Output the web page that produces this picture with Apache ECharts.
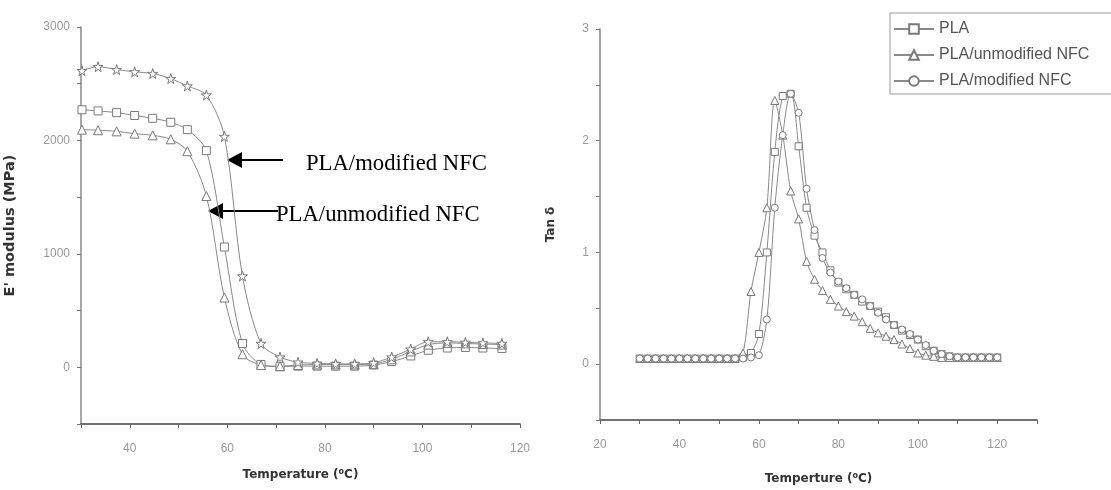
<!DOCTYPE html>
<html>
<head>
<meta charset="utf-8">
<script src="https://cdn.jsdelivr.net/npm/echarts@6/dist/echarts.min.js"></script>
<style>
  html, body { margin: 0; padding: 0; background: #fff; }
  #chart { width: 1111px; height: 490px; }
</style>
</head>
<body>
<div id="chart"></div>
<script>
// left panel: storage modulus
var tempE = [30.2, 33.5, 37.3, 41.0, 44.7, 48.4, 51.8, 55.7, 59.4, 63.1, 66.9, 70.8, 74.5, 78.4, 82.2, 86.1, 90.0, 93.7, 97.6, 101.2, 105.1, 108.8, 112.4, 116.3];
var ePLA = [2270, 2260, 2245, 2220, 2195, 2160, 2095, 1910, 1060, 210, 25, 5, 10, 10, 10, 10, 20, 50, 100, 150, 170, 175, 170, 165];
var eUnmod = [2095, 2090, 2080, 2060, 2045, 2010, 1905, 1510, 615, 115, 20, 10, 20, 25, 25, 25, 30, 70, 140, 200, 215, 210, 205, 200];
var eMod = [2615, 2650, 2625, 2605, 2590, 2545, 2480, 2400, 2035, 805, 210, 90, 45, 35, 30, 30, 40, 90, 160, 225, 225, 220, 215, 210];

// right panel: tan delta
var tempT = [30, 32, 34, 36, 38, 40, 42, 44, 46, 48, 50, 52, 54, 56, 58, 60, 62, 64, 66, 68, 70, 72, 74, 76, 78, 80, 82, 84, 86, 88, 90, 92, 94, 96, 98, 100, 102, 104, 106, 108, 110, 112, 114, 116, 118, 120];
var tPLA = [0.05, 0.05, 0.05, 0.05, 0.05, 0.05, 0.05, 0.05, 0.05, 0.05, 0.05, 0.05, 0.05, 0.06, 0.1, 0.27, 1.0, 1.9, 2.4, 2.42, 1.95, 1.4, 1.15, 1.0, 0.84, 0.73, 0.67, 0.62, 0.56, 0.52, 0.47, 0.42, 0.35, 0.3, 0.26, 0.22, 0.16, 0.12, 0.09, 0.07, 0.06, 0.06, 0.06, 0.06, 0.06, 0.06];
var tUnmod = [0.05, 0.05, 0.05, 0.05, 0.05, 0.05, 0.05, 0.05, 0.05, 0.05, 0.05, 0.05, 0.05, 0.1, 0.65, 1.0, 1.4, 2.36, 2.05, 1.55, 1.3, 0.92, 0.76, 0.66, 0.58, 0.52, 0.47, 0.43, 0.38, 0.32, 0.28, 0.25, 0.22, 0.18, 0.14, 0.1, 0.08, 0.07, 0.06, 0.06, 0.06, 0.06, 0.06, 0.06, 0.06, 0.06];
var tMod = [0.05, 0.05, 0.05, 0.05, 0.05, 0.05, 0.05, 0.05, 0.05, 0.05, 0.05, 0.05, 0.05, 0.05, 0.06, 0.08, 0.4, 1.4, 2.05, 2.42, 2.25, 1.57, 1.2, 0.95, 0.82, 0.74, 0.68, 0.62, 0.58, 0.52, 0.46, 0.4, 0.35, 0.31, 0.27, 0.22, 0.17, 0.12, 0.09, 0.07, 0.06, 0.06, 0.06, 0.06, 0.06, 0.06];

var names = ['PLA', 'PLA/unmodified NFC', 'PLA/modified NFC'];
var starPath = 'path://M50,0 L61,35 L98,35 L68,57 L79,91 L50,70 L21,91 L32,57 L2,35 L39,35 Z';

function pairs(xs, ys) {
    return xs.map(function (x, i) { return [x, ys[i]]; });
}

function lineSeries(name, xi, xs, ys, symbol, size) {
    return {
        name: name,
        type: 'line',
        xAxisIndex: xi,
        yAxisIndex: xi,
        data: pairs(xs, ys),
        smooth: 0.3,
        symbol: symbol,
        symbolSize: size,
        showSymbol: true,
        lineStyle: { color: '#8a8a8a', width: 1 },
        itemStyle: { color: '#fff', borderColor: '#7a7a7a', borderWidth: 1 },
        emphasis: { disabled: true },
        z: 3
    };
}

var labelStyle = { color: '#999', fontSize: 12, fontFamily: 'Liberation Sans' };
function nameStyle(size) {
    return {
        color: '#333', fontSize: size, fontWeight: 'bold', fontFamily: 'DejaVu Sans',
        rich: { sup: { fontSize: 8, fontWeight: 'bold', color: '#333', fontFamily: 'DejaVu Sans', verticalAlign: 'top', padding: [0, 0, 6, 0] } }
    };
}

function xAxis(idx, min, max, name, gap) {
    return {
        type: 'value', gridIndex: idx, min: min, max: max, interval: 10,
        name: name, nameLocation: 'middle', nameGap: gap, nameTextStyle: nameStyle(12),
        axisLine: { show: true, onZero: false, lineStyle: { color: '#444', width: 1.5 } },
        axisTick: { show: true, length: 4, lineStyle: { color: '#666' } },
        axisLabel: Object.assign({ margin: 19, formatter: function (v) { return v % 20 === 0 && v <= 120 ? v : ''; } }, labelStyle),
        splitLine: { show: false }
    };
}

function yAxis(idx, min, max, step, labelStep, name, gap, nsize) {
    return {
        type: 'value', gridIndex: idx, min: min, max: max, interval: step,
        name: name, nameLocation: 'middle', nameGap: gap, nameTextStyle: nameStyle(nsize),
        axisLine: { show: true, onZero: false, lineStyle: { color: '#888', width: 1.5 } },
        axisTick: { show: true, length: 4, lineStyle: { color: '#777' } },
        axisLabel: Object.assign({ margin: 11, formatter: function (v) { return Math.abs(v % labelStep) < 1e-9 && v >= 0 ? v : ''; } }, labelStyle),
        splitLine: { show: false }
    };
}

var chart = echarts.init(document.getElementById('chart'));

var option = {
    backgroundColor: '#fff',
    animation: false,
    grid: [
        { left: 81, top: 27, width: 439, height: 397 },
        { left: 600, top: 29, width: 437, height: 394 }
    ],
    xAxis: [
        xAxis(0, 30, 120, 'Temperature ({sup|o}C)', 44),
        xAxis(1, 20, 130, 'Temperture ({sup|o}C)', 52)
    ],
    yAxis: [
        yAxis(0, -500, 3000, 500, 1000, "E' modulus (MPa)", 63, 14.5),
        yAxis(1, -0.5, 3, 0.5, 1, 'Tan \u03b4', 43, 12)
    ],
    legend: {
        data: names,
        orient: 'vertical',
        left: 890,
        top: 13,
        itemWidth: 40,
        itemHeight: 12,
        itemGap: 10,
        padding: [8, 25, 5, 3],
        borderColor: '#999',
        borderWidth: 1,
        selectedMode: false,
        textStyle: { color: '#555', fontSize: 16, fontFamily: 'Liberation Sans' }
    },
    series: [
        lineSeries("E' PLA", 0, tempE, ePLA, 'rect', 8),
        lineSeries("E' PLA/unmodified NFC", 0, tempE, eUnmod, 'triangle', 9),
        lineSeries("E' PLA/modified NFC", 0, tempE, eMod, starPath, 10),
        lineSeries(names[0], 1, tempT, tPLA, 'rect', 7),
        lineSeries(names[1], 1, tempT, tUnmod, 'triangle', 8),
        lineSeries(names[2], 1, tempT, tMod, 'circle', 7)
    ],
    graphic: [
        { type: 'line', shape: { x1: 240, y1: 160, x2: 283, y2: 160 }, style: { stroke: '#000', lineWidth: 2 } },
        { type: 'polygon', shape: { points: [[227, 160], [242, 152], [242, 168]] }, style: { fill: '#000' } },
        { type: 'text', left: 306, top: 153, style: { text: 'PLA/modified NFC', font: '22.7px "Liberation Serif"', fill: '#000' } },
        { type: 'line', shape: { x1: 220, y1: 211, x2: 278, y2: 211 }, style: { stroke: '#000', lineWidth: 2 } },
        { type: 'polygon', shape: { points: [[208, 211], [223, 203], [223, 219]] }, style: { fill: '#000' } },
        { type: 'text', left: 276, top: 204, style: { text: 'PLA/unmodified NFC', font: '22.7px "Liberation Serif"', fill: '#000' } }
    ]
};

chart.setOption(option);
</script>
</body>
</html>
